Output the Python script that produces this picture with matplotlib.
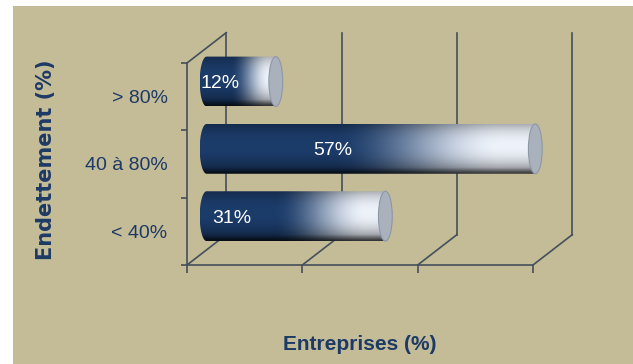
import numpy as np
import matplotlib
matplotlib.use("Agg")
import matplotlib.pyplot as plt
from matplotlib.patches import Ellipse, Polygon, Rectangle
from matplotlib.colors import to_rgb

# ---- data ----
categories = ["< 40%", "40 à 80%", "> 80%"]
values = [31, 57, 12]
value_labels = ["31%", "57%", "12%"]
x_ticks = [0, 20, 40, 60]
y_title = "Endettement (%)"
x_title = "Entreprises (%)"

# ---- style ----
BG = "#c4bb97"
NAVY_TXT = "#1d3a66"
LINE = "#44505c"
SANS = ["Liberation Sans", "DejaVu Sans"]

W, H, DPI = 633, 364, 100
fig = plt.figure(figsize=(W / DPI, H / DPI), dpi=DPI, facecolor="white")
fig.patches.append(Rectangle((13 / W, 0), 1, 1 - 6 / H, transform=fig.transFigure,
                             facecolor=BG, edgecolor="none", zorder=-10))

# front frame spans 346 px for 0..60 and 202 px for 3 categories;
# the axes box is extended up/right so the 3D back wall fits inside it
fx_px, fy_px = 346, 202
ext_x, ext_y = 413, 240
xmax = x_ticks[-1] * ext_x / fx_px
ymax = -0.5 + len(categories) * ext_y / fy_px
ax = fig.add_axes([187 / W, (H - 265) / H, ext_x / W, ext_y / H])
ax.set_facecolor("none")

# depth of the 3D box in data units
dx, dy = 6.8, 0.45

for s in ("top", "right"):
    ax.spines[s].set_visible(False)
for s in ("left", "bottom"):
    ax.spines[s].set_color(LINE)
    ax.spines[s].set_linewidth(1.2)
ax.spines["bottom"].set_bounds(0, x_ticks[-1])
ax.spines["left"].set_bounds(-0.5, len(categories) - 0.5)

ax.set_xticks(x_ticks)
ax.set_xticklabels([])
ax.tick_params(axis="x", direction="out", length=6, width=1.2, color=LINE)
ax.set_yticks(range(len(categories)))
ax.set_yticklabels(categories, family=SANS, fontsize=14, color=NAVY_TXT)
ax.tick_params(axis="y", length=0, pad=14)
ax.set_yticks([-0.5, 0.5, 1.5, 2.5], minor=True)
ax.tick_params(axis="y", which="minor", direction="out", length=4, width=1.2, color=LINE)

# back wall and floor
ytop = len(categories) - 0.5
ybot = -0.5
for t in x_ticks:
    ax.plot([t + dx, t + dx], [ybot + dy, ytop + dy], color=LINE, lw=1.2, zorder=1)
    ax.plot([t, t + dx], [ybot, ybot + dy], color=LINE, lw=1.2, zorder=1)
ax.plot([0, dx], [ytop, ytop + dy], color=LINE, lw=1.2, zorder=1)

# gradient image for cylinders
nx, ny = 300, 80
tx = np.linspace(0, 1, nx)
ty = np.linspace(-1, 1, ny)
dark = np.array(to_rgb("#1c3c6a"))
light = np.array(to_rgb("#eef3fb"))


def smooth(u):
    u = np.clip(u, 0, 1)
    return u * u * (3 - 2 * u)


bar_h = 0.74
a = 1.2  # half width of the end ellipses (data x units)

for i, (v, lab) in enumerate(zip(values, value_labels)):
    yc = i + dy / 2
    xl = dx / 2
    xr = v + dx / 2
    h = smooth((tx - 0.4) / 0.5)[None, :, None]
    base = dark[None, None, :] * (1 - h) + light[None, None, :] * h
    vv = ty[:, None, None]
    shade = 1 - 0.4 * np.abs(vv + 0.15) ** 2.2
    shade = np.where(vv > 0.75, shade * (1 - 0.55 * (vv - 0.75) / 0.25), shade)
    img = np.clip(base * shade, 0, 1)
    im = ax.imshow(img, extent=[xl - a, xr, yc - bar_h / 2, yc + bar_h / 2],
                   origin="upper", aspect="auto", zorder=3, interpolation="bilinear")
    th = np.linspace(np.pi / 2, 3 * np.pi / 2, 40)
    left = np.column_stack([xl + a * np.cos(th), yc + bar_h / 2 * np.sin(th)])
    pts = np.vstack([left, [[xr, yc - bar_h / 2], [xr, yc + bar_h / 2]]])
    clip = Polygon(pts, closed=True, transform=ax.transData, facecolor="none",
                   edgecolor="none")
    ax.add_patch(clip)
    im.set_clip_path(clip)
    cap = Ellipse((xr, yc), 2 * a, bar_h, facecolor="#a9b1bd", edgecolor="#8e97a4",
                  lw=0.8, zorder=4)
    ax.add_patch(cap)

ax.set_xlim(0, xmax)
ax.set_ylim(-0.5, ymax)

# value labels inside the bars
label_x = [4.3, 21.8, 2.3]
for i, (lab, lx) in enumerate(zip(value_labels, label_x)):
    ax.text(lx + dx / 2, i + dy / 2 - 0.03, lab, color="white", fontsize=14,
            family=SANS, ha="center", va="center", zorder=5)

fig.text(46 / W, 1 - 160 / H, y_title, rotation=90, ha="center", va="center",
         fontsize=15, fontweight="bold", color=NAVY_TXT)
fig.text(360 / W, 1 - 344 / H, x_title, ha="center", va="center",
         fontsize=15, fontweight="bold", family=SANS, color=NAVY_TXT)

fig.savefig("out.png", dpi=DPI, facecolor="white")
